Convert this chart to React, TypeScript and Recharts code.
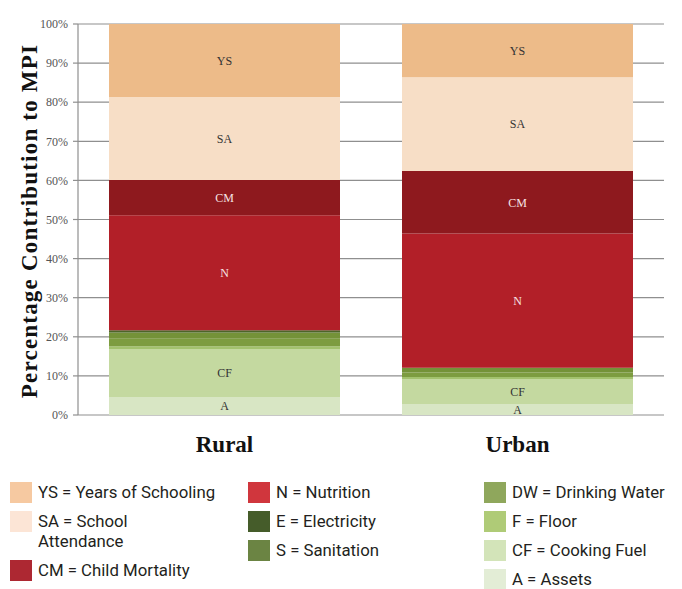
import { BarChart, Bar, XAxis, YAxis, CartesianGrid, LabelList } from "recharts";

const categories = ["Rural", "Urban"];
const assets = [4.6, 2.8];
const cookingFuel = [12.3, 6.4];
const floor = [0.7, 0.5];
const drinkingWater = [1.9, 1.2];
const sanitation = [1.6, 1.1];
const electricity = [0.6, 0.1];
const nutrition = [29.4, 34.3];
const childMortality = [9.0, 16.0];
const schoolAttendance = [21.2, 24.0];
const yearsOfSchooling = [18.7, 13.6];
const yTicks = [0, 10, 20, 30, 40, 50, 60, 70, 80, 90, 100];

const data = categories.map((name, i) => ({
  name,
  A: assets[i],
  CF: cookingFuel[i],
  F: floor[i],
  DW: drinkingWater[i],
  S: sanitation[i],
  E: electricity[i],
  N: nutrition[i],
  CM: childMortality[i],
  SA: schoolAttendance[i],
  YS: yearsOfSchooling[i],
}));

// stacked bottom to top
const series = [
  { key: "A", fill: "#d8e6c4", label: "#333" },
  { key: "CF", fill: "#c4d9a0", label: "#333" },
  { key: "F", fill: "#a3c26e" },
  { key: "DW", fill: "#7d9c40" },
  { key: "S", fill: "#749238" },
  { key: "E", fill: "#4d6529" },
  { key: "N", fill: "#b21f28", label: "#f6e4e4" },
  { key: "CM", fill: "#8e191e", label: "#f6e4e4" },
  { key: "SA", fill: "#f7dec6", label: "#333" },
  { key: "YS", fill: "#edbb89", label: "#333" },
];

const legendCols = [
  [
    { color: "#f6c9a1", text: "YS = Years of Schooling" },
    { color: "#fce5d6", text: "SA = School\nAttendance" },
    { color: "#ad2832", text: "CM = Child Mortality" },
  ],
  [
    { color: "#d0363d", text: "N = Nutrition" },
    { color: "#455c2a", text: "E = Electricity" },
    { color: "#6b8443", text: "S = Sanitation" },
  ],
  [
    { color: "#8fa75c", text: "DW = Drinking Water" },
    { color: "#afcb77", text: "F = Floor" },
    { color: "#d3e4b9", text: "CF = Cooking Fuel" },
    { color: "#e3edd6", text: "A = Assets" },
  ],
];
const legendX = [10, 248, 484];

const serif = "'Liberation Serif', 'DejaVu Serif', serif";

export default function App() {
  return (
    <div style={{ position: "absolute", left: 0, top: 0, width: 682, height: 589, background: "#fff" }}>
      <div
        style={{
          position: "absolute",
          left: 30,
          top: 221,
          transform: "translate(-50%, -50%) rotate(-90deg)",
          whiteSpace: "nowrap",
          fontFamily: serif,
          fontWeight: "bold",
          fontSize: 23,
          letterSpacing: 1.2,
          color: "#111",
        }}
      >
        Percentage Contribution to MPI
      </div>
      <BarChart
        width={682}
        height={460}
        data={data}
        margin={{ top: 24, right: 18, bottom: 0, left: 18 }}
        barCategoryGap={31}
      >
        <CartesianGrid vertical={false} stroke="#8f8f8f" strokeWidth={1.2} />
        <XAxis
          dataKey="name"
          height={45}
          axisLine={false}
          tickLine={false}
          tick={{ fontFamily: serif, fontWeight: "bold", fontSize: 23, fill: "#111" }}
          tickMargin={15}
        />
        <YAxis
          width={60}
          domain={[0, 100]}
          ticks={yTicks}
          tickFormatter={(v: number) => `${v}%`}
          axisLine={{ stroke: "#8f8f8f", strokeWidth: 1.2 }}
          tickLine={{ stroke: "#8f8f8f", strokeWidth: 1.2 }}
          tickSize={5}
          tickMargin={5}
          tick={{ fontFamily: serif, fontSize: 12, fill: "#555" }}
        />
        {series.map((s) => (
          <Bar key={s.key} dataKey={s.key} stackId="mpi" fill={s.fill} isAnimationActive={false}>
            {s.label && (
              <LabelList
                dataKey={s.key}
                position="center"
                formatter={() => s.key}
                style={{ fontFamily: serif, fontSize: 12, fill: s.label }}
              />
            )}
          </Bar>
        ))}
      </BarChart>
      {legendCols.map((col, ci) => {
        let y = 482;
        return col.map((item) => {
          const top = y;
          const lines = item.text.split("\n");
          y += 29 + (lines.length - 1) * 20;
          return (
            <div key={item.text} style={{ position: "absolute", left: legendX[ci], top, display: "flex", alignItems: "flex-start" }}>
              <div style={{ width: 22, height: 21, background: item.color, flexShrink: 0 }} />
              <div
                style={{
                  marginLeft: 6,
                  fontFamily: "Roboto, 'Noto Sans', sans-serif",
                  fontSize: 16.8,
                  color: "#231f20",
                  whiteSpace: "nowrap",
                  marginTop: 2,
                }}
              >
                {lines.map((ln, li) => (
                  <div key={ln} style={{ height: 17, lineHeight: "17px", marginTop: li > 0 ? 3 : 0 }}>
                    {ln}
                  </div>
                ))}
              </div>
            </div>
          );
        });
      })}
    </div>
  );
}
